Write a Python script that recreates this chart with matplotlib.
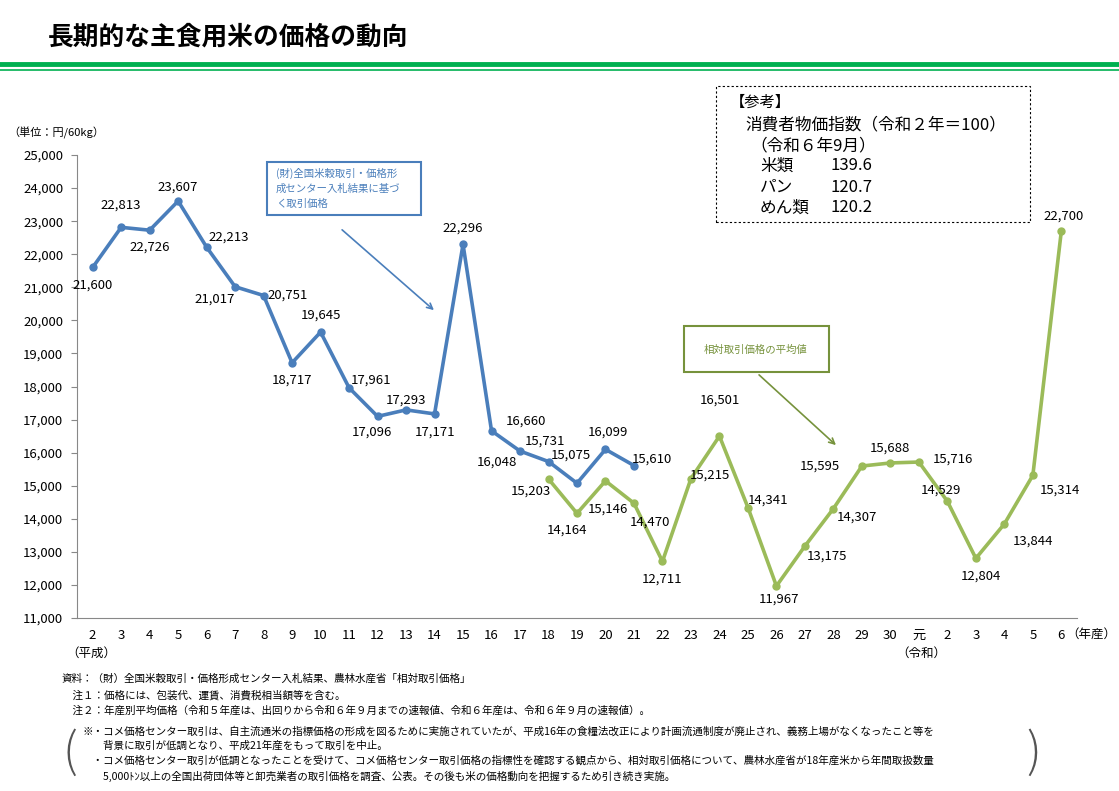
import matplotlib.pyplot as plt
from matplotlib.patches import Rectangle
from matplotlib.lines import Line2D

plt.rcParams['font.family'] = ['Noto Sans CJK JP', 'DejaVu Sans']

years = ['2', '3', '4', '5', '6', '7', '8', '9', '10', '11', '12', '13', '14', '15', '16',
         '17', '18', '19', '20', '21', '22', '23', '24', '25', '26', '27', '28', '29', '30',
         '元', '2', '3', '4', '5', '6']
center_price = [21600, 22813, 22726, 23607, 22213, 21017, 20751, 18717, 19645, 17961,
                17096, 17293, 17171, 22296, 16660, 16048, 15731, 15075, 16099, 15610]
relative_start = 16
relative_price = [15203, 14164, 15146, 14470, 12711, 15215, 16501, 14341, 11967, 13175,
                  14307, 15595, 15688, 15716, 14529, 12804, 13844, 15314, 22700]

# label offsets in pixels (dx, dy up)
blue_off = [(0, -18), (0, 22), (0, -17), (0, 14), (22, 10), (-20, -12), (24, 0), (0, -17),
            (0, 17), (22, 8), (-6, -16), (0, 10), (0, -18), (0, 16), (34, 10), (-23, -11),
            (-4, 20), (-6, 28), (2, 17), (18, 6)]
green_off = [(-18, -12), (-10, -17), (2, -28), (16, -19), (0, -18), (19, 3), (0, 36), (20, 7),
             (3, -13), (22, -10), (24, -9), (-42, 0), (0, 15), (34, 3), (-6, 11), (5, -18),
             (29, -17), (27, -15), (2, 15)]

W, H = 1119, 791
fig = plt.figure(figsize=(W / 100, H / 100), dpi=100)


def fx(x):
    return x / W


def fy(y):
    return 1 - y / H


ax = fig.add_axes([fx(77), fy(618), fx(1077) - fx(77), fy(155) - fy(618)])
xs = list(range(len(years)))
blue = '#4a7ebb'
green = '#9bbb59'
ax.plot(xs[:len(center_price)], center_price, color=blue, lw=2.6, marker='o', ms=5)
gx = xs[relative_start:relative_start + len(relative_price)]
ax.plot(gx, relative_price, color=green, lw=2.6, marker='o', ms=5)

for x, v, (dx, dy) in zip(xs, center_price, blue_off):
    ax.annotate(f'{v:,}', (x, v), xytext=(dx * 0.72, dy * 0.72), textcoords='offset points',
                ha='center', va='center', fontsize=9.5)
for x, v, (dx, dy) in zip(gx, relative_price, green_off):
    ax.annotate(f'{v:,}', (x, v), xytext=(dx * 0.72, dy * 0.72), textcoords='offset points',
                ha='center', va='center', fontsize=9.5)

ax.set_xlim(-0.55, len(years) - 0.45)
ax.set_ylim(11000, 25000)
ax.set_yticks(range(11000, 25001, 1000))
ax.set_yticklabels([f'{v:,}' for v in range(11000, 25001, 1000)], fontsize=9.5)
ax.set_xticks(xs)
ax.set_xticklabels(years, fontsize=9.5)
ax.tick_params(axis='x', length=0, pad=8)
ax.tick_params(axis='y', length=4, color='#888888', pad=6)
for s in ['top', 'right']:
    ax.spines[s].set_visible(False)
for s in ['left', 'bottom']:
    ax.spines[s].set_color('#888888')

# header
fig.text(fx(48), fy(37), '長期的な主食用米の価格の動向', fontsize=18.5, va='center', ha='left',
         fontweight='bold')
fig.add_artist(Line2D([0, 1], [fy(64), fy(64)], color='#00b050', lw=3.5))
fig.add_artist(Line2D([0, 1], [fy(70), fy(70)], color='#00b050', lw=1.2))

fig.text(fx(8), fy(133), '（単位：円/60kg）', fontsize=8, va='center')
fig.text(fx(91), fy(653), '（平成）', fontsize=9, ha='center', va='center')
fig.text(fx(921), fy(653), '（令和）', fontsize=9, ha='center', va='center')
fig.text(fx(1116), fy(634), '（年産）', fontsize=9, ha='right', va='center')

# callouts
fig.add_artist(Rectangle((fx(267), fy(215)), fx(154), fy(162) - fy(215), fill=False,
                         ec=blue, lw=1.5))
fig.text(fx(276), fy(188), '(財)全国米穀取引・価格形\n成センター入札結果に基づ\nく取引価格',
         color=blue, fontsize=7.5, va='center', linespacing=1.6)
ax.annotate('', xy=(fx(436), fy(312)), xycoords='figure fraction',
            xytext=(fx(340), fy(228)), textcoords='figure fraction',
            arrowprops=dict(arrowstyle='->', color=blue, lw=1.2))
fig.add_artist(Rectangle((fx(684), fy(372)), fx(145), fy(326) - fy(372), fill=False,
                         ec='#76923c', lw=1.5))
fig.text(fx(756), fy(350), '相対取引価格の平均値', color='#76923c', fontsize=7.5,
         ha='center', va='center')
ax.annotate('', xy=(fx(838), fy(447)), xycoords='figure fraction',
            xytext=(fx(757), fy(373)), textcoords='figure fraction',
            arrowprops=dict(arrowstyle='->', color='#76923c', lw=1.2))

# reference box
fig.add_artist(Rectangle((fx(716), fy(222)), fx(314), fy(86) - fy(222), fill=False,
                         ec='black', lw=0.8, ls=(0, (2, 2))))
fig.text(fx(730), fy(102), '【参考】', fontsize=11, va='center')
fig.text(fx(745), fy(125), '消費者物価指数（令和２年＝100）', fontsize=12, va='center')
fig.text(fx(750), fy(146), '（令和６年9月）', fontsize=12, va='center')
for i, (k, v) in enumerate([('米類', '139.6'), ('パン', '120.7'), ('めん類', '120.2')]):
    fig.text(fx(760), fy(166 + 21 * i), k, fontsize=12, va='center')
    fig.text(fx(830), fy(166 + 21 * i), v, fontsize=12, va='center')

# notes
notes = ['資料：（財）全国米穀取引・価格形成センター入札結果、農林水産省「相対取引価格」',
         '　注１：価格には、包装代、運賃、消費税相当額等を含む。',
         '　注２：年産別平均価格（令和５年産は、出回りから令和６年９月までの速報値、令和６年産は、令和６年９月の速報値）。']
for i, t in enumerate(notes):
    fig.text(fx(62), fy(679 + 16 * i), t, fontsize=7.6, va='center')
box = ['※・コメ価格センター取引は、自主流通米の指標価格の形成を図るために実施されていたが、平成16年の食糧法改正により計画流通制度が廃止され、義務上場がなくなったこと等を',
       '　　背景に取引が低調となり、平成21年産をもって取引を中止。',
       '　・コメ価格センター取引が低調となったことを受けて、コメ価格センター取引価格の指標性を確認する観点から、相対取引価格について、農林水産省が18年産米から年間取扱数量',
       '　　5,000ﾄﾝ以上の全国出荷団体等と卸売業者の取引価格を調査、公表。その後も米の価格動向を把握するため引き続き実施。']
for i, t in enumerate(box):
    fig.text(fx(82), fy(731 + 15 * i), t, fontsize=7.6, va='center')
fig.text(fx(70), fy(753), '(', fontsize=34, va='center', ha='center', color='#555555',
         fontweight='light')
fig.text(fx(1034), fy(753), ')', fontsize=34, va='center', ha='center', color='#555555',
         fontweight='light')

fig.savefig('out.png', dpi=100)
